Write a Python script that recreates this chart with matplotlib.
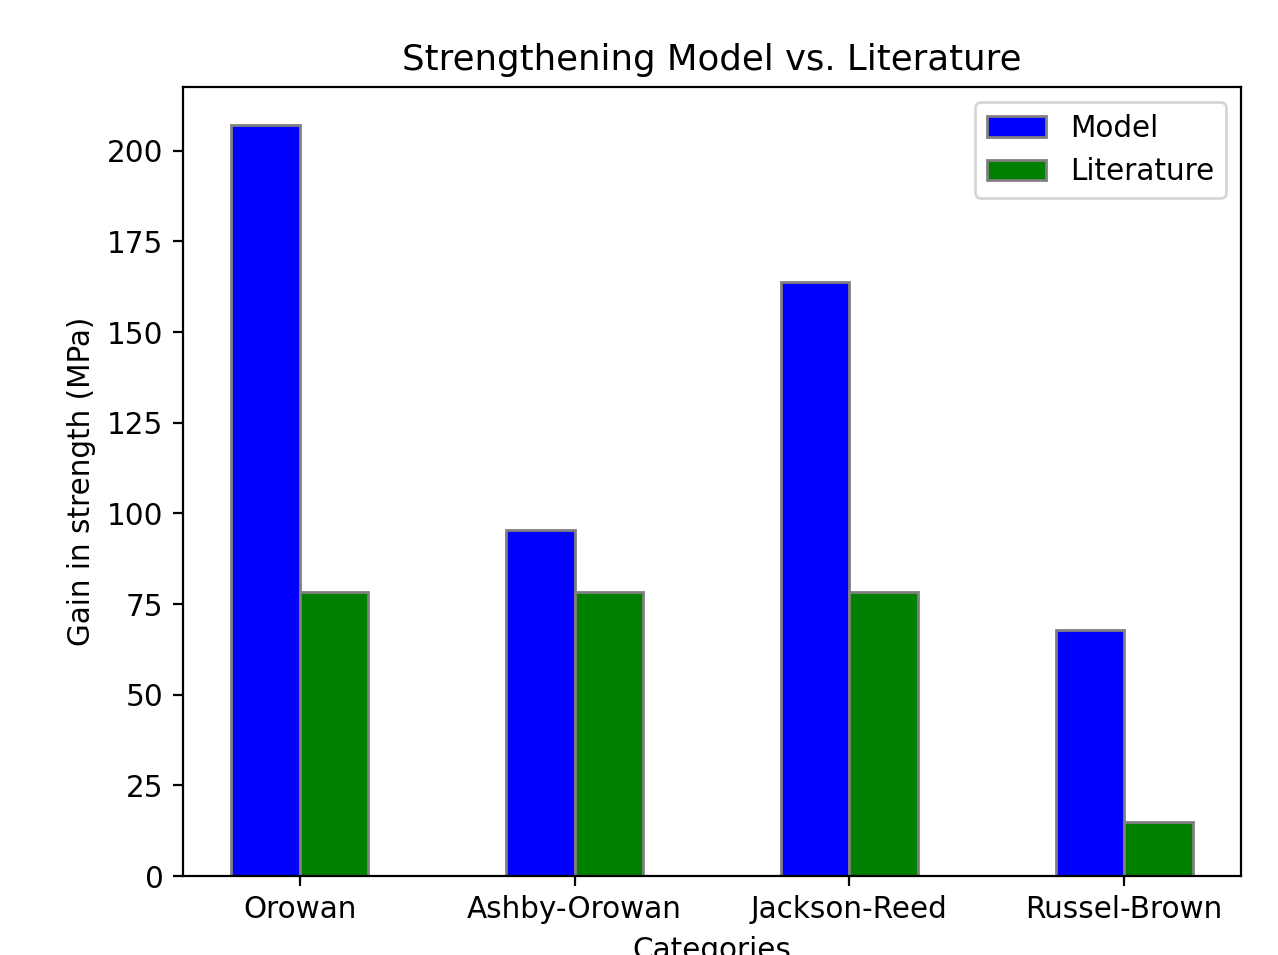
import numpy as np
import matplotlib
matplotlib.use("Agg")
import matplotlib.pyplot as plt

categories = ["Orowan", "Ashby-Orowan", "Jackson-Reed", "Russel-Brown"]
model_values = [207.2, 95.4, 163.9, 67.8]
literature_values = [78.2, 78.2, 78.2, 14.9]

plt.rcParams["font.size"] = 10.65

W, H = 1278, 955
fig = plt.figure(figsize=(W / 200, H / 200), dpi=200)
ax = fig.add_axes([183 / W, 1 - 876 / H, (1241 - 183) / W, (876 - 87) / H])

x = np.arange(len(categories))
width = 0.25
ax.bar(x - width / 2, model_values, width, color="blue", edgecolor="grey", label="Model")
ax.bar(x + width / 2, literature_values, width, color="green", edgecolor="grey", label="Literature")

ax.set_xticks(x)
ax.set_xticklabels(categories)
ax.set_xlabel("Categories")
ax.set_ylabel("Gain in strength (MPa)")
ax.set_title("Strengthening Model vs. Literature")
ax.legend(loc="upper right")

fig.savefig("out.png", dpi=200)
